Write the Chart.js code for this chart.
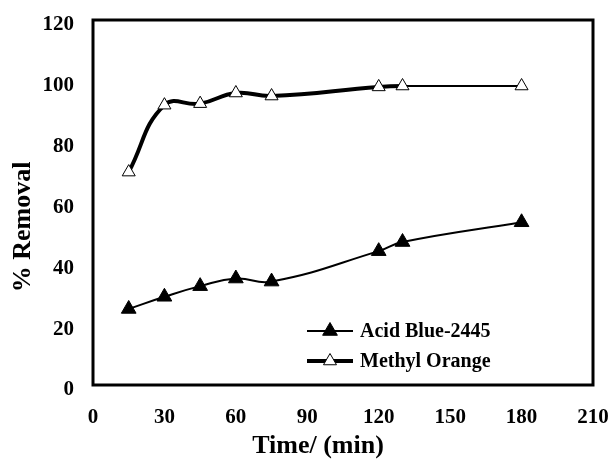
<!DOCTYPE html>
<html>
<head>
<meta charset="utf-8">
<script src="https://cdn.jsdelivr.net/npm/chart.js@4.4.1/dist/chart.umd.min.js"></script>
<style>
	html, body { margin: 0; padding: 0; background: #fff; }
	#removalChart { display: block; }
</style>
</head>
<body>
<canvas id="removalChart" width="612" height="461"></canvas>
<script>
// data
const timeMin = [15, 30, 45, 60, 75, 120, 130, 180];
const acidBlue = [25, 29, 32.5, 35, 34, 44, 47, 53.5];
const methylOrange = [70, 92, 92.5, 96, 95, 98, 98.3, 98.3];
const xTicks = [0, 30, 60, 90, 120, 150, 180, 210];
const yTicks = [0, 20, 40, 60, 80, 100, 120];
const seriesNames = ['Acid Blue-2445', 'Methyl Orange'];
const xTitle = 'Time/ (min)';
const yTitle = '% Removal';

const serif = '"Liberation Serif", "Times New Roman", serif';

function toPoints(values) {
	return timeMin.map((t, i) => ({ x: t, y: values[i] }));
}

// full black box around the plot area
const boxBorder = {
	id: 'boxBorder',
	beforeDatasetsDraw(chart) {
		const { ctx, chartArea } = chart;
		ctx.save();
		ctx.lineWidth = 3;
		ctx.strokeStyle = '#000';
		ctx.strokeRect(chartArea.left, chartArea.top, chartArea.right - chartArea.left, chartArea.bottom - chartArea.top);
		ctx.restore();
	},
};

// axis titles sit a bit off-centre in the original (Excel), so draw them here
const axisTitles = {
	id: 'axisTitles',
	afterDraw(chart) {
		const { ctx, chartArea } = chart;
		ctx.save();
		ctx.fillStyle = '#000';
		ctx.font = 'bold 26px ' + serif;
		ctx.textAlign = 'center';
		ctx.textBaseline = 'middle';
		ctx.fillText(xTitle, chartArea.left + 225, 446);
		ctx.translate(23, chartArea.top + 207);
		ctx.rotate(-Math.PI / 2);
		ctx.fillText(yTitle, 0, 0);
		ctx.restore();
	},
};

function drawTriangle(ctx, x, y, r, fill) {
	ctx.beginPath();
	ctx.moveTo(x, y - r);
	ctx.lineTo(x + r * Math.sin(Math.PI / 3), y + r / 2);
	ctx.lineTo(x - r * Math.sin(Math.PI / 3), y + r / 2);
	ctx.closePath();
	ctx.fillStyle = fill;
	ctx.fill();
	ctx.lineWidth = 1;
	ctx.strokeStyle = '#000';
	ctx.stroke();
}

// legend inside the plot, Excel style: line sample with marker in the middle
const lineLegend = {
	id: 'lineLegend',
	afterDraw(chart) {
		const ctx = chart.ctx;
		const x0 = 307, x1 = 353, rowY = [331, 361];
		ctx.save();
		chart.data.datasets.forEach((ds, i) => {
			const y = rowY[i];
			ctx.beginPath();
			ctx.moveTo(x0, y);
			ctx.lineTo(x1, y);
			ctx.lineWidth = ds.borderWidth;
			ctx.strokeStyle = ds.borderColor;
			ctx.stroke();
			drawTriangle(ctx, (x0 + x1) / 2, y, ds.pointRadius, ds.pointBackgroundColor);
			ctx.fillStyle = '#000';
			ctx.font = 'bold 20px ' + serif;
			ctx.textBaseline = 'middle';
			ctx.textAlign = 'left';
			ctx.fillText(ds.label, 360, y + 1);
		});
		ctx.restore();
	},
};

const data = {
	datasets: [
		{
			label: seriesNames[0],
			data: toPoints(acidBlue),
			borderColor: '#000',
			borderWidth: 2,
			pointStyle: 'triangle',
			pointRadius: 8.5,
			pointBackgroundColor: '#000',
			pointBorderColor: '#000',
			pointBorderWidth: 1,
			tension: 0.45,
		},
		{
			label: seriesNames[1],
			data: toPoints(methylOrange),
			borderColor: '#000',
			borderWidth: 4,
			segment: {
				borderWidth: (c) => (c.p0.parsed.x >= 130 ? 2 : 4),
			},
			pointStyle: 'triangle',
			pointRadius: 7.5,
			pointBackgroundColor: '#fff',
			pointBorderColor: '#000',
			pointBorderWidth: 1,
			tension: 0.45,
		},
	],
};

const tickFont = { family: serif, size: 21, weight: 'bold' };

const options = {
	responsive: false,
	animation: false,
	layout: { padding: { left: 0, right: 19, top: 20, bottom: 0 } },
	plugins: { legend: { display: false }, tooltip: { enabled: false } },
	scales: {
		x: {
			type: 'linear',
			min: 0,
			max: 210,
			afterBuildTicks: (s) => { s.ticks = xTicks.map((v) => ({ value: v })); },
			afterFit: (s) => {
				s.height = 76;
				s.paddingLeft = 0; // no extra room for end labels, box edges set by layout
				s.paddingRight = 0;
			},
			grid: { display: false, drawTicks: false },
			border: { display: false },
			ticks: { color: '#000', font: tickFont, padding: 20, maxRotation: 0 },
		},
		y: {
			min: 0,
			max: 120,
			afterBuildTicks: (s) => { s.ticks = yTicks.map((v) => ({ value: v })); },
			afterFit: (s) => {
				s.width = 93;
				s.paddingTop = 0;
				s.paddingBottom = 0;
			},
			grid: { display: false, drawTicks: false },
			border: { display: false },
			ticks: { color: '#000', font: tickFont, padding: 19, labelOffset: 5 },
		},
	},
};

const ctx = document.getElementById('removalChart').getContext('2d');
const removalChart = new Chart(ctx, {
	type: 'line',
	data,
	options,
	plugins: [boxBorder, lineLegend, axisTitles],
});
</script>
</body>
</html>
